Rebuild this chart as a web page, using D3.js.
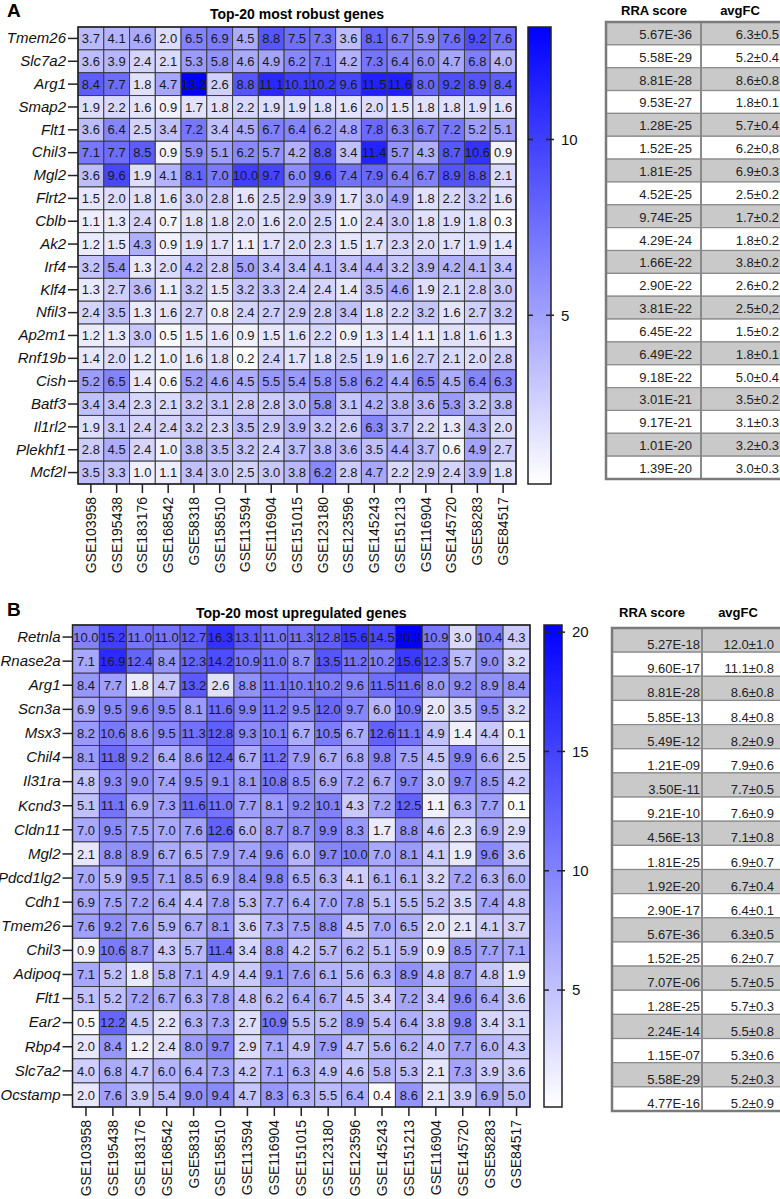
<!DOCTYPE html>
<html><head><meta charset="utf-8">
<script src="https://cdn.jsdelivr.net/npm/d3@7"></script>
<style>body{margin:0;background:#fff} svg{display:block} text{font-family:"Liberation Sans",Arial,sans-serif}</style>
</head><body><svg id="c" width="780" height="1199"></svg>
<script>
const datasets = ["GSE103958","GSE195438","GSE183176","GSE168542","GSE58318","GSE158510","GSE113594","GSE116904","GSE151015","GSE123180","GSE123596","GSE145243","GSE151213","GSE116904","GSE145720","GSE58283","GSE84517"];

const genesA = ["Tmem26","Slc7a2","Arg1","Smap2","Flt1","Chil3","Mgl2","Flrt2","Cblb","Ak2","Irf4","Klf4","Nfil3","Ap2m1","Rnf19b","Cish","Batf3","Il1rl2","Plekhf1","Mcf2l"];
const valuesA = [
[3.7,4.1,4.6,2.0,6.5,6.9,4.5,8.8,7.5,7.3,3.6,8.1,6.7,5.9,7.6,9.2,7.6],
[3.6,3.9,2.4,2.1,5.3,5.8,4.6,4.9,6.2,7.1,4.2,7.3,6.4,6.0,4.7,6.8,4.0],
[8.4,7.7,1.8,4.7,13.2,2.6,8.8,11.1,10.1,10.2,9.6,11.5,11.6,8.0,9.2,8.9,8.4],
[1.9,2.2,1.6,0.9,1.7,1.8,2.2,1.9,1.9,1.8,1.6,2.0,1.5,1.8,1.8,1.9,1.6],
[3.6,6.4,2.5,3.4,7.2,3.4,4.5,6.7,6.4,6.2,4.8,7.8,6.3,6.7,7.2,5.2,5.1],
[7.1,7.7,8.5,0.9,5.9,5.1,6.2,5.7,4.2,8.8,3.4,11.4,5.7,4.3,8.7,10.6,0.9],
[3.6,9.6,1.9,4.1,8.1,7.0,10.0,9.7,6.0,9.6,7.4,7.9,6.4,6.7,8.9,8.8,2.1],
[1.5,2.0,1.8,1.6,3.0,2.8,1.6,2.5,2.9,3.9,1.7,3.0,4.9,1.8,2.2,3.2,1.6],
[1.1,1.3,2.4,0.7,1.8,1.8,2.0,1.6,2.0,2.5,1.0,2.4,3.0,1.8,1.9,1.8,0.3],
[1.2,1.5,4.3,0.9,1.9,1.7,1.1,1.7,2.0,2.3,1.5,1.7,2.3,2.0,1.7,1.9,1.4],
[3.2,5.4,1.3,2.0,4.2,2.8,5.0,3.4,3.4,4.1,3.4,4.4,3.2,3.9,4.2,4.1,3.4],
[1.3,2.7,3.6,1.1,3.2,1.5,3.2,3.3,2.4,2.4,1.4,3.5,4.6,1.9,2.1,2.8,3.0],
[2.4,3.5,1.3,1.6,2.7,0.8,2.4,2.7,2.9,2.8,3.4,1.8,2.2,3.2,1.6,2.7,3.2],
[1.2,1.3,3.0,0.5,1.5,1.6,0.9,1.5,1.6,2.2,0.9,1.3,1.4,1.1,1.8,1.6,1.3],
[1.4,2.0,1.2,1.0,1.6,1.8,0.2,2.4,1.7,1.8,2.5,1.9,1.6,2.7,2.1,2.0,2.8],
[5.2,6.5,1.4,0.6,5.2,4.6,4.5,5.5,5.4,5.8,5.8,6.2,4.4,6.5,4.5,6.4,6.3],
[3.4,3.4,2.3,2.1,3.2,3.1,2.8,2.8,3.0,5.8,3.1,4.2,3.8,3.6,5.3,3.2,3.8],
[1.9,3.1,2.4,2.4,3.2,2.3,3.5,2.9,3.9,3.2,2.6,6.3,3.7,2.2,1.3,4.3,2.0],
[2.8,4.5,2.4,1.0,3.8,3.5,3.2,2.4,3.7,3.8,3.6,3.5,4.4,3.7,0.6,4.9,2.7],
[3.5,3.3,1.0,1.1,3.4,3.0,2.5,3.0,3.8,6.2,2.8,4.7,2.2,2.9,2.4,3.9,1.8]];
const rraA = ["5.67E-36","5.58E-29","8.81E-28","9.53E-27","1.28E-25","1.52E-25","1.81E-25","4.52E-25","9.74E-25","4.29E-24","1.66E-22","2.90E-22","3.81E-22","6.45E-22","6.49E-22","9.18E-22","3.01E-21","9.17E-21","1.01E-20","1.39E-20"];
const fcA = ["6.3±0.5","5.2±0.4","8.6±0.8","1.8±0.1","5.7±0.4","6.2±0,8","6.9±0.3","2.5±0.2","1.7±0.2","1.8±0.2","3.8±0.2","2.6±0.2","2.5±0,2","1.5±0.2","1.8±0.1","5.0±0.4","3.5±0.2","3.1±0.3","3.2±0.3","3.0±0.3"];
const colorTicksA = [5, 10];

const genesB = ["Retnla","Rnase2a","Arg1","Scn3a","Msx3","Chil4","Il31ra","Kcnd3","Cldn11","Mgl2","Pdcd1lg2","Cdh1","Tmem26","Chil3","Adipoq","Flt1","Ear2","Rbp4","Slc7a2","Ocstamp"];
const valuesB = [
[10.0,15.2,11.0,11.0,12.7,16.3,13.1,11.0,11.3,12.8,15.6,14.5,20.3,10.9,3.0,10.4,4.3],
[7.1,16.9,12.4,8.4,12.3,14.2,10.9,11.0,8.7,13.5,11.2,10.2,15.6,12.3,5.7,9.0,3.2],
[8.4,7.7,1.8,4.7,13.2,2.6,8.8,11.1,10.1,10.2,9.6,11.5,11.6,8.0,9.2,8.9,8.4],
[6.9,9.5,9.6,9.5,8.1,11.6,9.9,11.2,9.5,12.0,9.7,6.0,10.9,2.0,3.5,9.5,3.2],
[8.2,10.6,8.6,9.5,11.3,12.8,9.3,10.1,6.7,10.5,6.7,12.6,11.1,4.9,1.4,4.4,0.1],
[8.1,11.8,9.2,6.4,8.6,12.4,6.7,11.2,7.9,6.7,6.8,9.8,7.5,4.5,9.9,6.6,2.5],
[4.8,9.3,9.0,7.4,9.5,9.1,8.1,10.8,8.5,6.9,7.2,6.7,9.7,3.0,9.7,8.5,4.2],
[5.1,11.1,6.9,7.3,11.6,11.0,7.7,8.1,9.2,10.1,4.3,7.2,12.5,1.1,6.3,7.7,0.1],
[7.0,9.5,7.5,7.0,7.6,12.6,6.0,8.7,8.7,9.9,8.3,1.7,8.8,4.6,2.3,6.9,2.9],
[2.1,8.8,8.9,6.7,6.5,7.9,7.4,9.6,6.0,9.7,10.0,7.0,8.1,4.1,1.9,9.6,3.6],
[7.0,5.9,9.5,7.1,8.5,6.9,8.4,9.8,6.5,6.3,4.1,6.1,6.1,3.2,7.2,6.3,6.0],
[6.9,7.5,7.2,6.4,4.4,7.8,5.3,7.7,6.4,7.0,7.8,5.1,5.5,5.2,3.5,7.4,4.8],
[7.6,9.2,7.6,5.9,6.7,8.1,3.6,7.3,7.5,8.8,4.5,7.0,6.5,2.0,2.1,4.1,3.7],
[0.9,10.6,8.7,4.3,5.7,11.4,3.4,8.8,4.2,5.7,6.2,5.1,5.9,0.9,8.5,7.7,7.1],
[7.1,5.2,1.8,5.8,7.1,4.9,4.4,9.1,7.6,6.1,5.6,6.3,8.9,4.8,8.7,4.8,1.9],
[5.1,5.2,7.2,6.7,6.3,7.8,4.8,6.2,6.4,6.7,4.5,3.4,7.2,3.4,9.6,6.4,3.6],
[0.5,12.2,4.5,2.2,6.3,7.3,2.7,10.9,5.5,5.2,8.9,5.4,6.4,3.8,9.8,3.4,3.1],
[2.0,8.4,1.2,2.4,8.0,9.7,2.9,7.1,4.9,7.9,4.7,5.6,6.2,4.0,7.7,6.0,4.3],
[4.0,6.8,4.7,6.0,6.4,7.3,4.2,7.1,6.3,4.9,4.6,5.8,5.3,2.1,7.3,3.9,3.6],
[2.0,7.6,3.9,5.4,9.0,9.4,4.7,8.3,6.3,5.5,6.4,0.4,8.6,2.1,3.9,6.9,5.0]];
const rraB = ["5.27E-18","9.60E-17","8.81E-28","5.85E-13","5.49E-12","1.21E-09","3.50E-11","9.21E-10","4.56E-13","1.81E-25","1.92E-20","2.90E-17","5.67E-36","1.52E-25","7.07E-06","1.28E-25","2.24E-14","1.15E-07","5.58E-29","4.77E-16"];
const fcB = ["12.0±1.0","11.1±0.8","8.6±0.8","8.4±0.8","8.2±0.9","7.9±0.6","7.7±0.5","7.6±0.9","7.1±0.8","6.9±0.7","6.7±0.4","6.4±0.1","6.3±0.5","6.2±0.7","5.7±0.5","5.7±0.3","5.5±0.8","5.3±0.6","5.2±0.3","5.2±0.9"];
const colorTicksB = [5, 10, 15, 20];

const svg = d3.select("#c");
const defs = svg.append("defs");

function panel(cfg) {
  const g = svg.append("g");
  const allV = cfg.values.flat();
  const vmin = d3.min(allV), vmax = d3.max(allV);
  const color = d3.scaleLinear().domain([vmin, vmax]).range(["#ffffff", "#0000ff"]);
  const x = d3.scaleBand().domain(d3.range(cfg.cols.length)).range([cfg.x0, cfg.x1]);
  const y = d3.scaleBand().domain(cfg.genes).range([cfg.y0, cfg.y1]);

  // panel letter & title
  g.append("text").attr("x", 7).attr("y", cfg.letterY).text(cfg.letter)
    .attr("font-size", 19).attr("font-weight", "bold");
  g.append("text").attr("x", (cfg.x0 + cfg.x1) / 2).attr("y", cfg.titleY).text(cfg.title)
    .attr("font-size", 14).attr("font-weight", "bold").attr("text-anchor", "middle");

  // cells
  const rows = g.selectAll(".row").data(cfg.values).join("g")
    .attr("transform", (d, i) => `translate(0,${y(cfg.genes[i])})`);
  rows.selectAll("rect").data(d => d).join("rect")
    .attr("x", (d, j) => x(j)).attr("y", 0)
    .attr("width", x.bandwidth()).attr("height", y.bandwidth())
    .attr("fill", d => color(d)).attr("stroke", "#3c3c3c").attr("stroke-width", 1);
  rows.selectAll("text").data(d => d).join("text")
    .attr("x", (d, j) => x(j) + x.bandwidth() / 2).attr("y", y.bandwidth() / 2)
    .attr("dy", "0.36em").attr("text-anchor", "middle")
    .attr("font-size", 13).attr("fill", "#1a1a1a")
    .text(d => d.toFixed(1));
  g.append("rect").attr("x", cfg.x0).attr("y", cfg.y0)
    .attr("width", cfg.x1 - cfg.x0).attr("height", cfg.y1 - cfg.y0)
    .attr("fill", "none").attr("stroke", "#222").attr("stroke-width", 1.5);

  // y axis
  const ya = g.append("g").attr("transform", `translate(${cfg.x0},0)`)
    .call(d3.axisLeft(y).tickSize(10).tickPadding(2));
  ya.select(".domain").remove();
  ya.selectAll("line").attr("stroke", "#222").attr("stroke-width", 1.5);
  ya.selectAll("text").attr("font-size", 15).attr("font-style", "italic")
    .attr("fill", "#111").style("font-family", '"Liberation Sans",Arial,sans-serif');

  // x axis
  const xa = g.append("g").attr("transform", `translate(0,${cfg.y1})`)
    .call(d3.axisBottom(x).tickSize(9).tickFormat(i => cfg.cols[i]));
  xa.select(".domain").remove();
  xa.selectAll("line").attr("stroke", "#222").attr("stroke-width", 1.5);
  xa.selectAll("text").attr("font-size", 14).attr("fill", "#111")
    .style("font-family", '"Liberation Sans",Arial,sans-serif')
    .attr("transform", "rotate(-90)").attr("x", -13).attr("y", 0)
    .attr("dy", "0.35em").style("text-anchor", "end");

  // color bar
  const gid = "grad" + cfg.letter;
  const grad = defs.append("linearGradient").attr("id", gid)
    .attr("x1", 0).attr("y1", 1).attr("x2", 0).attr("y2", 0);
  grad.append("stop").attr("offset", 0).attr("stop-color", color(vmin));
  grad.append("stop").attr("offset", 1).attr("stop-color", color(vmax));
  const cs = d3.scaleLinear().domain([vmin, vmax]).range([cfg.y1, cfg.y0]);
  g.append("rect").attr("x", cfg.cbx0).attr("y", cfg.y0)
    .attr("width", cfg.cbx1 - cfg.cbx0).attr("height", cfg.y1 - cfg.y0)
    .attr("fill", `url(#${gid})`).attr("stroke", "#222").attr("stroke-width", 1.5);
  const cbt = g.append("g");
  cfg.cticks.forEach(t => {
    const yy = cs(t);
    cbt.append("line").attr("x1", cfg.cbx0).attr("x2", cfg.cbx0 + 5).attr("y1", yy).attr("y2", yy)
      .attr("stroke", "#222").attr("stroke-width", 1.5);
    cbt.append("line").attr("x1", cfg.cbx1 - 5).attr("x2", cfg.cbx1 + 3).attr("y1", yy).attr("y2", yy)
      .attr("stroke", "#222").attr("stroke-width", 1.5);
    cbt.append("text").attr("x", cfg.cbx1 + 10).attr("y", yy).attr("dy", "0.35em")
      .attr("font-size", 15).attr("fill", "#111").text(t);
  });

  // table
  const ty = d3.scaleBand().domain(d3.range(cfg.rra.length)).range([cfg.tY0, cfg.tY1]);
  const tg = g.append("g");
  const tw = 800;
  tg.selectAll(".trow").data(cfg.rra).join("rect")
    .attr("x", cfg.tx0).attr("y", (d, i) => ty(i))
    .attr("width", tw - cfg.tx0).attr("height", ty.bandwidth())
    .attr("fill", (d, i) => i % 2 === 0 ? "#c9c9c9" : "#ffffff")
    .attr("stroke", "#8a8a8a").attr("stroke-width", 1.2);
  tg.append("line").attr("x1", cfg.tdiv).attr("x2", cfg.tdiv).attr("y1", cfg.tY0).attr("y2", cfg.tY1)
    .attr("stroke", "#8a8a8a").attr("stroke-width", 2);
  tg.append("rect").attr("x", cfg.tx0).attr("y", cfg.tY0)
    .attr("width", tw - cfg.tx0).attr("height", cfg.tY1 - cfg.tY0)
    .attr("fill", "none").attr("stroke", "#7a7a7a").attr("stroke-width", 2.5);
  tg.selectAll(".rra").data(cfg.rra).join("text")
    .attr("x", cfg.tdiv - cfg.tpad).attr("y", (d, i) => ty(i) + ty.bandwidth() - cfg.tbase)
    .attr("text-anchor", "end").attr("font-size", 13).attr("fill", "#222").text(d => d);
  tg.selectAll(".fc").data(cfg.fc).join("text")
    .attr("x", cfg.fcx).attr("y", (d, i) => ty(i) + ty.bandwidth() - cfg.tbase)
    .attr("text-anchor", "end").attr("font-size", 13).attr("fill", "#222").text(d => d);
  g.append("text").attr("x", cfg.h1x).attr("y", cfg.hY).attr("text-anchor", "middle")
    .attr("font-size", 13).attr("font-weight", "bold").text("RRA score");
  g.append("text").attr("x", cfg.h2x).attr("y", cfg.hY).attr("text-anchor", "middle")
    .attr("font-size", 13).attr("font-weight", "bold").text("avgFC");
}

panel({letter: "A", letterY: 17, title: "Top-20 most robust genes", titleY: 19,
  genes: genesA, values: valuesA, cols: datasets,
  x0: 78, x1: 516, y0: 27, y1: 484, cbx0: 528, cbx1: 551, cticks: colorTicksA,
  rra: rraA, fc: fcA, tx0: 606, tdiv: 701, tY0: 22, tY1: 479, tpad: 9, fcx: 779, tbase: 6,
  hY: 15, h1x: 654, h2x: 740});

panel({letter: "B", letterY: 616, title: "Top-20 most upregulated genes", titleY: 618,
  genes: genesB, values: valuesB, cols: datasets,
  x0: 72.5, x1: 530, y0: 625, y1: 1107, cbx0: 544, cbx1: 562, cticks: colorTicksB,
  rra: rraB, fc: fcB, tx0: 612, tdiv: 702, tY0: 628, tY1: 1111, tpad: 2, fcx: 774, tbase: 3,
  hY: 617, h1x: 652, h2x: 738});
</script>
</body></html>
